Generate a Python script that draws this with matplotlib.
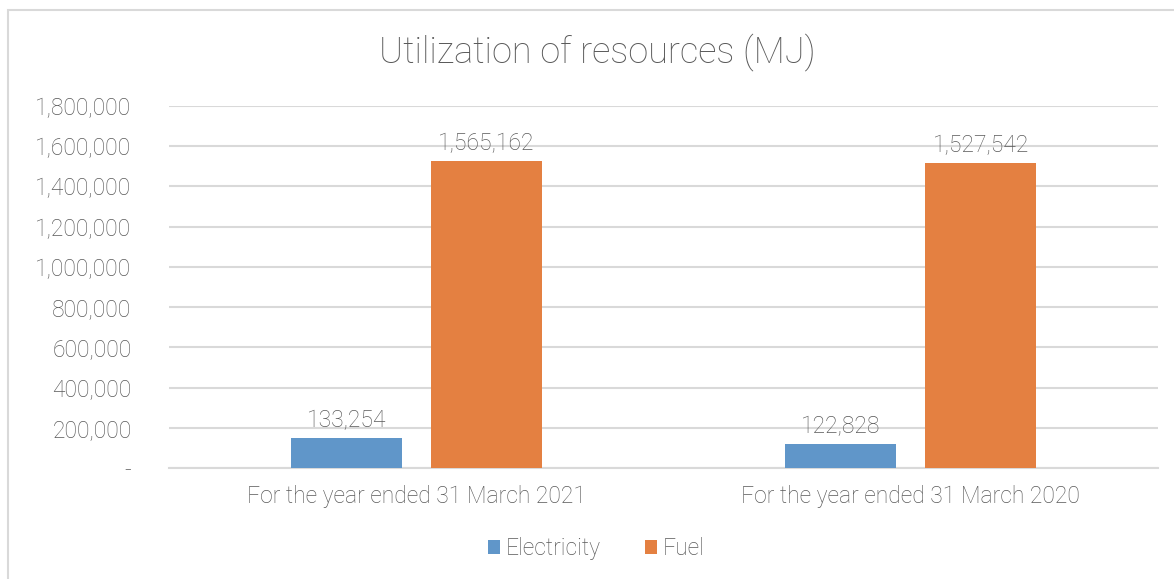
import numpy as np
import matplotlib
matplotlib.use('Agg')
import matplotlib.pyplot as plt
from matplotlib.patches import Rectangle

# chart data
categories = ['For the year ended 31 March 2021', 'For the year ended 31 March 2020']
series = ['Electricity', 'Fuel']
# bar heights as drawn in the picture
electricity = [149000, 119000]
fuel = [1526000, 1516000]
# data labels as printed above the bars
electricity_labels = ['133,254', '122,828']
fuel_labels = ['1,565,162', '1,527,542']
yticks = [0, 200000, 400000, 600000, 800000, 1000000, 1200000, 1400000, 1600000, 1800000]

plt.rcParams['font.family'] = ['Roboto', 'DejaVu Sans']
plt.rcParams['font.weight'] = 'light'

text_color = '#595959'
blue = '#6096C9'
orange = '#E48041'
grid_color = '#D9D9D9'

fig = plt.figure(figsize=(11.74, 5.79), dpi=100)
ax = fig.add_axes([0.144, 0.1917, 0.8424, 0.6252])

# chart frame
fig.patches.append(Rectangle((8 / 1174, -0.1), 1.2, 1 - 10 / 579 + 0.1, transform=fig.transFigure,
                             fill=False, edgecolor=grid_color, linewidth=1.5))

x = np.arange(len(categories))
width = 0.2245
offset = 0.1416
b1 = ax.bar(x - offset, electricity, width, color=blue, label=series[0], zorder=3)
b2 = ax.bar(x + offset, fuel, width, color=orange, label=series[1], zorder=3)

for bars, labels in [(b1, electricity_labels), (b2, fuel_labels)]:
    for bar, lab in zip(bars, labels):
        ax.annotate(lab, (bar.get_x() + bar.get_width() / 2, bar.get_height()),
                    xytext=(0, 4), textcoords='offset points', ha='center', va='bottom',
                    fontsize=16.5, color=text_color)

ax.set_xlim(-0.5, 1.5)
ax.set_ylim(0, 1800000)
ax.set_yticks(yticks)
ax.set_yticklabels(['-' if v == 0 else f'{v:,}' for v in yticks])
ax.set_xticks(x)
ax.set_xticklabels(categories)
ax.tick_params(axis='both', length=0, labelsize=16.5, labelcolor=text_color)
ax.tick_params(axis='y', pad=27)
ax.tick_params(axis='x', pad=12)

ax.grid(axis='y', color=grid_color, linewidth=1.5, zorder=0)
for s in ['top', 'right', 'left']:
    ax.spines[s].set_visible(False)
ax.spines['bottom'].set_color(grid_color)
ax.spines['bottom'].set_linewidth(1.5)

fig.text(0.5085, 0.91, 'Utilization of resources (MJ)', ha='center', va='center',
         fontsize=26, color=text_color)

fig.legend(handles=[b1, b2], labels=series, loc='center', bbox_to_anchor=(0.508, 0.052),
           ncol=2, frameon=False, fontsize=16.5, labelcolor=text_color,
           handlelength=0.55, handleheight=0.55, handletextpad=0.25, columnspacing=1.9)

fig.savefig('out.png', dpi=100)
